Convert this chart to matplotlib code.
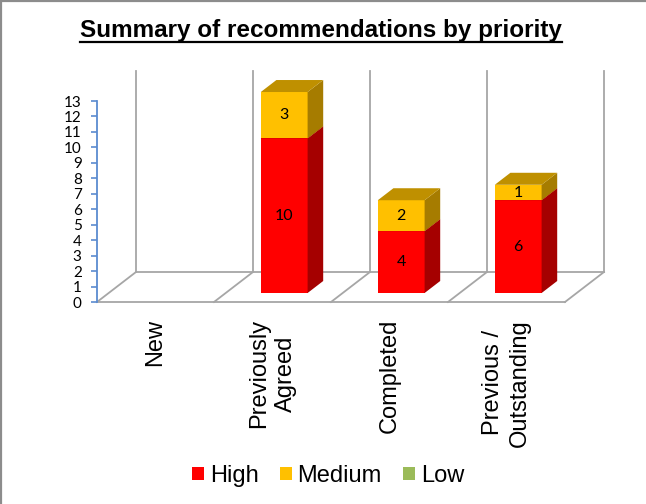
import matplotlib
matplotlib.use('Agg')
import matplotlib.pyplot as plt
from matplotlib.patches import Polygon, Patch
from matplotlib.lines import Line2D

plt.rcParams['font.family'] = ['Liberation Sans', 'DejaVu Sans']

# chart data
categories = ['New', 'Previously\nAgreed', 'Completed', 'Previous /\nOutstanding']
series = ['High', 'Medium', 'Low']
high = [0, 10, 4, 6]
medium = [0, 3, 2, 1]
low = [0, 0, 0, 0]
yticks = list(range(0, 14))

front = {'High': '#FF0000', 'Medium': '#FFC000', 'Low': '#9BBB59'}
side = {'High': '#A50000', 'Medium': '#A67C00', 'Low': '#6E8A3A'}
top = {'High': '#C00000', 'Medium': '#BF9000', 'Low': '#7E9C45'}

W, H = 646, 504
PX_X, PX_Y = 117.0, 15.46          # pixels per category / per value unit
fig = plt.figure(figsize=(W / 100, H / 100), dpi=100)
ax = fig.add_axes([97 / W, (H - 302) / H, (630 - 97) / W, (302 - 50) / H])
ax.set_xlim(0, (630 - 97) / PX_X)
ax.set_ylim(0, (302 - 50) / PX_Y)

# oblique depth of the floor and walls
DX, DY = 39 / PX_X, 30 / PX_Y
n = len(categories)
ymax = yticks[-1]
wall = dict(color='#A6A6A6', lw=1.3, clip_on=False, zorder=1)

# back wall verticals
for i in range(n + 1):
    ax.plot([i + DX, i + DX], [DY, ymax + DY], **wall)
# floor
ax.plot([0, n], [0, 0], **wall)
ax.plot([DX, n + DX], [DY, DY], **wall)
for i in range(n + 1):
    ax.plot([i, i + DX], [0, DY], **wall)

# stacked 3D columns
bw = 0.40
bd = 0.4
for i in range(n):
    x0 = i + 0.5 - bw / 2 + 0.3 * DX
    base = 0.3 * DY
    for name, vals in zip(series, [high, medium, low]):
        v = vals[i]
        if v == 0:
            continue
        y1 = base + v
        ox, oy = bd * DX, bd * DY
        ax.add_patch(Polygon([(x0, base), (x0 + bw, base), (x0 + bw, y1), (x0, y1)],
                             closed=True, facecolor=front[name], edgecolor='none', zorder=3))
        ax.add_patch(Polygon([(x0 + bw, base), (x0 + bw + ox, base + oy),
                              (x0 + bw + ox, y1 + oy), (x0 + bw, y1)],
                             closed=True, facecolor=side[name], edgecolor='none', zorder=3))
        ax.add_patch(Polygon([(x0, y1), (x0 + bw, y1), (x0 + bw + ox, y1 + oy), (x0 + ox, y1 + oy)],
                             closed=True, facecolor=top[name], edgecolor='none', zorder=3))
        ax.text(x0 + bw / 2, base + v / 2, str(v), ha='center', va='center',
                fontsize=11.5, family=['Lato', 'DejaVu Sans'], zorder=4)
        base = y1

# value axis
for s in ['top', 'right', 'bottom']:
    ax.spines[s].set_visible(False)
ax.spines['left'].set_bounds(0, ymax)
ax.spines['left'].set_color('#5B8BD0')
ax.spines['left'].set_linewidth(1.3)
ax.set_yticks(yticks)
ax.tick_params(axis='y', direction='out', length=4, width=1.2, color='#5B8BD0',
               labelsize=11, pad=7)
for lab in ax.get_yticklabels():
    lab.set_family(['Lato', 'DejaVu Sans'])
ax.set_xticks([])
ax.patch.set_alpha(0)

# category labels
for i, cat in enumerate(categories):
    ax.text(i + 0.5, -17 / PX_Y, cat, rotation=90, ha='center', va='top',
            multialignment='center', fontsize=17, linespacing=1.25, clip_on=False)

# legend
handles = [Patch(facecolor=front[s], edgecolor='none', label=s) for s in series]
fig.legend(handles=handles, ncol=3, loc='center', bbox_to_anchor=(328 / W, 1 - 476 / H),
           frameon=False, fontsize=17, handlelength=0.5, handleheight=0.5,
           handletextpad=0.25, columnspacing=0.9, borderpad=0)

# underlined title
title = fig.text(321 / W, 1 - 37 / H, 'Summary of recommendations by priority',
                 ha='center', va='baseline', fontsize=17.5, fontweight='bold')
fig.canvas.draw()
bb = title.get_window_extent()
fig.add_artist(Line2D([bb.x0 / W, bb.x1 / W], [1 - 42 / H, 1 - 42 / H], color='black', lw=1.6))

# chart border (top and left)
fig.add_artist(Line2D([1 / W, 1 / W], [0, 1 - 1 / H], color='#8C8C8C', lw=1.6))
fig.add_artist(Line2D([0, 1], [1 - 1 / H, 1 - 1 / H], color='#8C8C8C', lw=1.6))

fig.savefig('out.png', dpi=100)
